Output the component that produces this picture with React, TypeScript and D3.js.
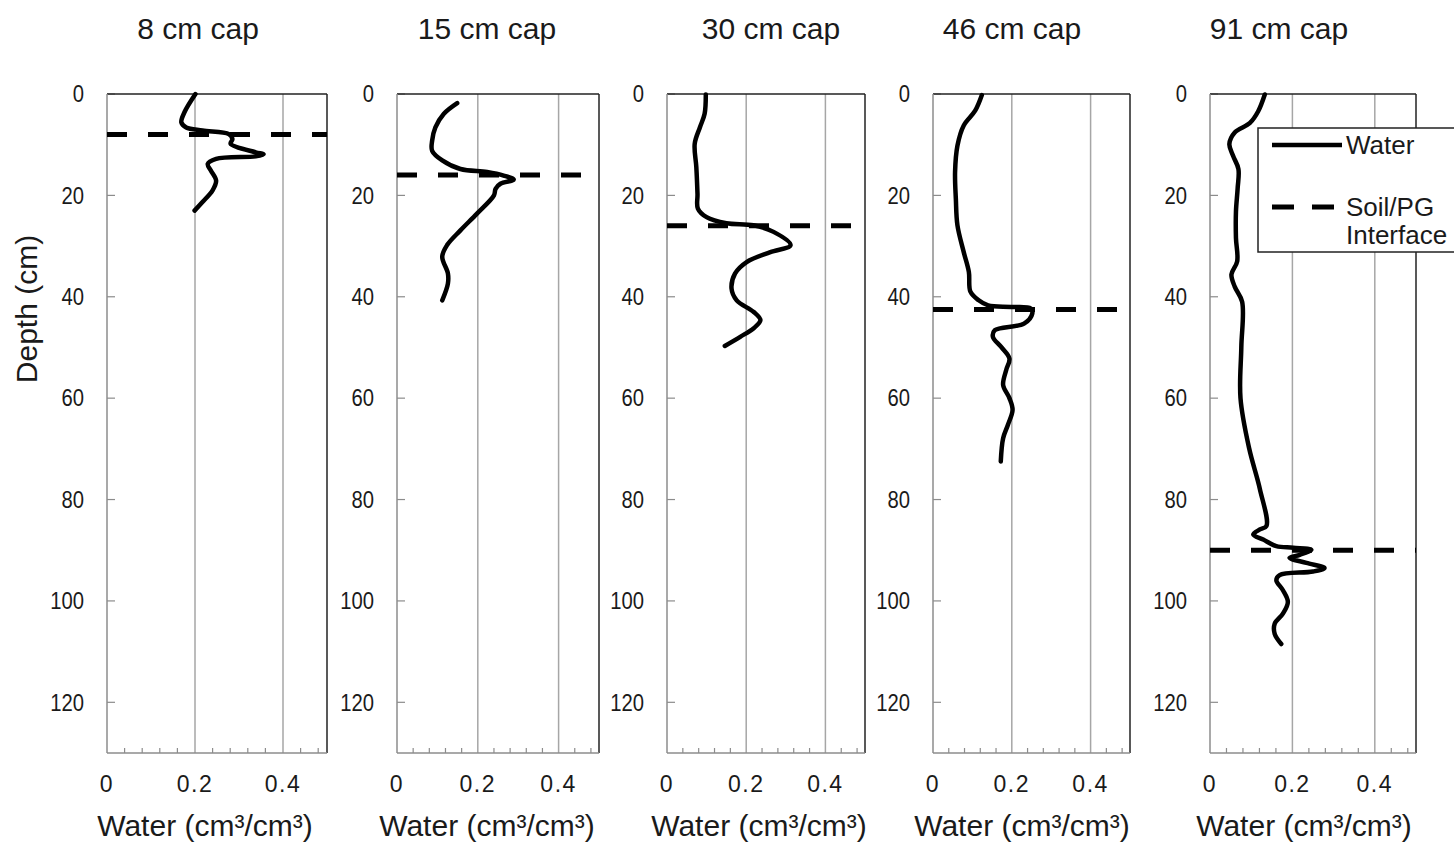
import * as d3 from "d3";

// panel titles and interface depths (cm)
const titles = ["8 cm cap", "15 cm cap", "30 cm cap", "46 cm cap", "91 cm cap"];
const interfaceDepth = [8, 16, 26, 42.5, 90];
const depthTicks = [0, 20, 40, 60, 80, 100, 120];
const waterTicks = [0, 0.2, 0.4];
const xLabel = "Water (cm³/cm³)";

// water content profiles: [water, depth]
const cap8: [number, number][] = [
  [0.201, 0], [0.176, 3.6], [0.169, 5.6], [0.18, 6.6], [0.217, 7.2], [0.277, 7.9],
  [0.285, 8.9], [0.281, 9.8], [0.338, 11.5], [0.356, 11.9], [0.338, 12.3], [0.248, 12.8],
  [0.229, 13.8], [0.236, 15.1], [0.248, 17.1], [0.24, 19], [0.217, 21.3], [0.199, 23],
];
const cap15: [number, number][] = [
  [0.149, 1.8], [0.116, 3.9], [0.095, 6.6], [0.087, 9.2], [0.087, 11.2], [0.112, 13.1],
  [0.157, 14.8], [0.223, 15.4], [0.264, 16.1], [0.289, 16.9], [0.256, 17.7], [0.244, 18.7],
  [0.24, 20], [0.198, 23.6], [0.157, 26.9], [0.124, 29.8], [0.112, 32.1], [0.126, 35.4],
  [0.126, 37.4], [0.112, 40.7],
];
const cap30: [number, number][] = [
  [0.098, 0.1], [0.095, 3.9], [0.083, 6.6], [0.07, 9.8], [0.074, 14.4], [0.077, 19.7],
  [0.078, 22.6], [0.1, 24.3], [0.15, 25.5], [0.218, 25.9], [0.269, 27.2], [0.312, 29.8],
  [0.261, 31.2], [0.202, 33.1], [0.172, 35.4], [0.163, 38.4], [0.176, 40.7], [0.219, 43],
  [0.236, 44.6], [0.219, 46.2], [0.185, 47.9], [0.146, 49.7],
];
const cap46: [number, number][] = [
  [0.124, 0.2], [0.107, 3.3], [0.078, 6.2], [0.062, 10.2], [0.056, 15.4], [0.058, 20.7],
  [0.062, 25.9], [0.078, 31.2], [0.091, 35.1], [0.095, 39], [0.116, 40.7], [0.14, 41.7],
  [0.198, 42], [0.248, 42.3], [0.252, 43.3], [0.231, 45.3], [0.157, 46.6], [0.152, 47.9],
  [0.173, 49.9], [0.194, 52.2], [0.186, 54.4], [0.178, 57.4], [0.194, 60], [0.202, 62.3],
  [0.19, 65.3], [0.178, 67.9], [0.172, 72.5],
];
const cap91: [number, number][] = [
  [0.133, 0.1], [0.117, 3.4], [0.097, 5.7], [0.06, 7.6], [0.047, 9.9], [0.056, 12.2],
  [0.069, 14.8], [0.067, 18.7], [0.063, 23.2], [0.063, 28.4], [0.066, 33], [0.052, 35.6],
  [0.06, 38], [0.078, 41], [0.076, 50], [0.074, 60], [0.095, 69.9], [0.121, 77.9],
  [0.137, 85.2], [0.121, 85.9], [0.105, 86.9], [0.129, 87.9], [0.161, 89.2], [0.202, 89.5],
  [0.246, 89.9], [0.218, 90.9], [0.193, 91.5], [0.234, 92.5], [0.278, 93.5], [0.25, 94.2],
  [0.169, 94.9], [0.161, 95.9], [0.177, 97.9], [0.189, 100.2], [0.177, 102.5], [0.157, 104.5],
  [0.157, 106.5], [0.173, 108.5],
];
const profiles = [cap8, cap15, cap30, cap46, cap91];

// layout
const W = 1454;
const H = 848;
const top = 94;
const bottom = 753;
const panelLeft = [107, 397, 667, 933, 1210];
const panelWidth = [220, 202, 198, 197, 206];
const titleX = [198, 487, 771, 1012, 1279];
const labelX = [205, 487, 759, 1022, 1304];
const font = "'Liberation Sans', Arial, sans-serif";
const textColor = "#1a1a1a";

const y = d3.scaleLinear().domain([0, 130]).range([top, bottom]);

function Panel({ i }: { i: number }) {
  const x = d3
    .scaleLinear()
    .domain([0, 0.5])
    .range([panelLeft[i], panelLeft[i] + panelWidth[i]]);
  const line = d3
    .line<[number, number]>()
    .x((d) => x(d[0]))
    .y((d) => y(d[1]))
    .curve(d3.curveCatmullRom.alpha(0.5));
  const minor = d3.range(0.04, 0.5, 0.04).filter((v) => Math.abs(v / 0.2 - Math.round(v / 0.2)) > 0.01);
  const x0 = x(0);
  const x1 = x(0.5);
  return (
    <g>
      <text x={titleX[i]} y={39} textAnchor="middle" fontSize={30} fill={textColor}>
        {titles[i]}
      </text>
      {waterTicks.slice(1).map((t) => (
        <line key={t} x1={x(t)} x2={x(t)} y1={top} y2={bottom} stroke="#a6a6a6" strokeWidth={1.5} />
      ))}
      {minor.map((t) => (
        <line key={t} x1={x(t)} x2={x(t)} y1={bottom} y2={bottom - 5} stroke="#8c8c8c" strokeWidth={1.2} />
      ))}
      {depthTicks.map((t) => (
        <g key={t}>
          <line x1={x0} x2={x0 + 8} y1={y(t)} y2={y(t)} stroke="#8c8c8c" strokeWidth={1.2} />
          <text
            x={x0 - 23}
            y={y(t)}
            dy="0.36em"
            textAnchor="end"
            fontSize={23}
            fill={textColor}
            transform={`translate(${x0 - 23}, 0) scale(0.88, 1) translate(${-(x0 - 23)}, 0)`}
          >
            {t}
          </text>
        </g>
      ))}
      {waterTicks.map((t) => (
        <text key={t} x={x(t)} y={792} textAnchor="middle" fontSize={23} letterSpacing={1.5} fill={textColor}>
          {t}
        </text>
      ))}
      <line x1={x0} x2={x1} y1={top} y2={top} stroke="#222" strokeWidth={1.5} />
      <line x1={x1} x2={x1} y1={top} y2={bottom} stroke="#222" strokeWidth={1.5} />
      <line x1={x0} x2={x0} y1={top} y2={bottom} stroke="#8c8c8c" strokeWidth={1.5} />
      <line x1={x0} x2={x1} y1={bottom} y2={bottom} stroke="#8c8c8c" strokeWidth={1.5} />
      <line
        x1={x0}
        x2={x1}
        y1={y(interfaceDepth[i])}
        y2={y(interfaceDepth[i])}
        stroke="#000"
        strokeWidth={5}
        strokeDasharray="20,21"
      />
      <path d={line(profiles[i]) || ""} fill="none" stroke="#000" strokeWidth={4.5} strokeLinejoin="round" strokeLinecap="round" />
      <text x={labelX[i]} y={836} textAnchor="middle" fontSize={30} fill={textColor}>
        {xLabel}
      </text>
    </g>
  );
}

export default function App() {
  return (
    <svg
      width={W}
      height={H}
      style={{ position: "absolute", left: 0, top: 0, background: "#fff" }}
      fontFamily={font}
    >
      <rect width={W} height={H} fill="#fff" />
      {titles.map((_, i) => (
        <Panel key={i} i={i} />
      ))}
      <text transform={`translate(37, 309) rotate(-90)`} textAnchor="middle" fontSize={30} fill={textColor}>
        Depth (cm)
      </text>
      <g>
        <rect x={1258} y={128} width={210} height={124} fill="#fff" stroke="#222" strokeWidth={1.5} />
        <line x1={1272} x2={1342} y1={145} y2={145} stroke="#000" strokeWidth={4.5} />
        <text x={1346} y={145} dy="0.36em" fontSize={26} fill={textColor}>
          Water
        </text>
        <line x1={1272} x2={1336} y1={207} y2={207} stroke="#000" strokeWidth={5} strokeDasharray="22,18" />
        <text x={1346} y={207} dy="0.36em" fontSize={26} fill={textColor}>
          Soil/PG
        </text>
        <text x={1346} y={235} dy="0.36em" fontSize={26} fill={textColor}>
          Interface
        </text>
      </g>
    </svg>
  );
}
